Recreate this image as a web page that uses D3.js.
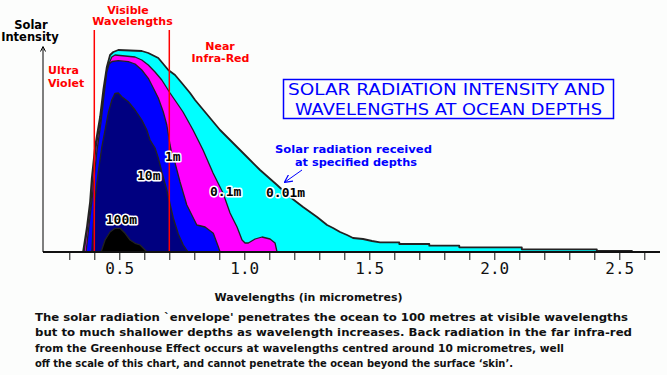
<!DOCTYPE html>
<html>
<head>
<meta charset="utf-8">
<script src="https://cdn.jsdelivr.net/npm/d3@7"></script>
<style>
  html, body { margin: 0; padding: 0; background: #fcfdfc; }
  svg { display: block; }
  .lbl { font-family: "DejaVu Sans", sans-serif; font-weight: bold; }
  .depth { font-family: "DejaVu Sans Mono", monospace; font-weight: bold; font-size: 13px;
           fill: #000; stroke: #fff; stroke-width: 3px; paint-order: stroke; stroke-linejoin: round; }
</style>
</head>
<body>
<svg id="chart" width="667" height="375"></svg>
<script>
'use strict';

// spectral envelopes at each depth: [wavelength (um), intensity]
var env001m = [[0.355,0],[0.370,0.24],[0.383,0.50],[0.390,0.74],[0.403,1.05],[0.423,1.35],[0.436,1.62],
    [0.450,1.85],[0.463,1.97],[0.476,2.00],[0.496,2.02],[0.590,2.01],[0.616,1.99],[0.656,1.94],[0.696,1.82],
    [0.723,1.77],[0.750,1.69],[0.783,1.59],[0.803,1.52],[0.903,1.22],[0.955,1.09],[1.011,0.95],[1.063,0.82],
    [1.131,0.67],[1.183,0.55],[1.235,0.45],[1.291,0.35],[1.331,0.27],[1.355,0.24],[1.383,0.20],[1.411,0.17],
    [1.435,0.14],[1.475,0.13],[1.511,0.11],[1.543,0.097],[1.62,0.097],[1.62,0.08],[1.74,0.08],[1.74,0.063],
    [1.86,0.063],[1.86,0.047],[2.11,0.047],[2.11,0.027],[2.41,0.027],[2.41,0.01],[2.55,0.01],[2.555,0]];
var env01m = [[0.359,0],[0.373,0.24],[0.387,0.50],[0.393,0.74],[0.407,1.05],[0.427,1.35],[0.439,1.62],
    [0.450,1.82],[0.456,1.87],[0.470,1.95],[0.483,1.97],[0.563,1.95],[0.590,1.92],[0.616,1.87],[0.643,1.80],
    [0.670,1.72],[0.703,1.59],[0.736,1.47],[0.755,1.40],[0.795,1.22],[0.835,1.02],[0.875,0.79],[0.915,0.59],
    [0.943,0.39],[0.971,0.25],[0.991,0.12],[1.003,0.09],[1.016,0.09],[1.043,0.13],[1.071,0.15],[1.103,0.13],
    [1.123,0.09],[1.131,0]];
var env1m = [[0.367,0],[0.379,0.27],[0.391,0.52],[0.399,0.74],[0.411,1.02],[0.427,1.30],[0.439,1.57],
    [0.450,1.80],[0.459,1.88],[0.471,1.905],[0.496,1.913],[0.536,1.903],[0.563,1.88],[0.590,1.82],[0.616,1.737],
    [0.636,1.64],[0.656,1.54],[0.676,1.40],[0.690,1.27],[0.703,1.07],[0.711,0.97],[0.723,0.89],[0.743,0.70],
    [0.770,0.47],[0.790,0.37],[0.810,0.27],[0.843,0.25],[0.876,0.187],[0.896,0.053],[0.903,0]];
var env10m = [[0.390,0],[0.396,0.27],[0.403,0.54],[0.416,0.80],[0.430,1.05],[0.443,1.22],[0.456,1.39],
    [0.470,1.52],[0.483,1.587],[0.496,1.59],[0.510,1.553],[0.536,1.503],[0.563,1.42],[0.590,1.32],[0.610,1.22],
    [0.623,1.12],[0.643,1.04],[0.656,0.94],[0.670,0.80],[0.690,0.62],[0.703,0.48],[0.716,0.34],[0.736,0.18],
    [0.756,0.07],[0.775,0]];
var env100m = [[0.427,0],[0.443,0.12],[0.463,0.20],[0.483,0.237],[0.503,0.237],[0.523,0.187],[0.543,0.12],
    [0.563,0.087],[0.583,0.07],[0.603,0.02],[0.611,0]];

var depthNames = ['0.01m', '0.1m', '1m', '10m', '100m'];
var depthLabelAt = [[1.087, 0.553], [0.863, 0.56], [0.683, 0.91], [0.571, 0.72], [0.446, 0.28]];

var tickValues = d3.range(3, 27).map(function (d) { return d / 10; });
var tickLabels = {5: '0.5', 10: '1.0', 15: '1.5', 20: '2.0', 25: '2.5'};
var visibleBand = [0.4, 0.7];

var titleLines = ['SOLAR RADIATION INTENSITY AND', 'WAVELENGTHS AT OCEAN DEPTHS'];
var noteLines = [
    "The solar radiation `envelope' penetrates the ocean to 100 metres at visible wavelengths",
    "but to much shallower depths as wavelength increases.  Back radiation in the far infra-red",
    "from the Greenhouse Effect occurs at wavelengths centred around 10 micrometres, well",
    "off the scale of this chart, and cannot penetrate the ocean beyond the surface \u2018skin\u2019."
];
var noteWidths = [593, 597, 529, 478];

var fills = ['#00ffff', '#ff00ff', '#0000ff', '#000080', '#000000'];

var svg = d3.select('#chart');
var x = d3.scaleLinear().domain([0.3, 2.6]).range([69.3, 644.3]);
var y = d3.scaleLinear().domain([0, 2]).range([252, 52]);

// stacked depth envelopes, widest first
var area = d3.area()
    .x(function (d) { return x(d[0]); })
    .y0(y(0))
    .y1(function (d) { return y(d[1]); });

[env001m, env01m, env1m, env10m, env100m].forEach(function (env, i) {
    svg.append('path')
        .datum(env)
        .attr('d', area)
        .attr('fill', fills[i])
        .attr('stroke', '#222')
        .attr('stroke-width', i ? 1.3 : 1.8)
        .attr('stroke-linejoin', 'round');
});

// visible band limits
svg.selectAll('line.band')
    .data(visibleBand)
    .enter().append('line')
    .attr('class', 'band')
    .attr('x1', function (d) { return x(d); })
    .attr('x2', function (d) { return x(d); })
    .attr('y1', 30)
    .attr('y2', 252)
    .attr('stroke', '#f00')
    .attr('stroke-width', 1.5);

// x axis
var axis = d3.axisBottom(x)
    .tickValues(tickValues)
    .tickSize(8)
    .tickPadding(3)
    .tickFormat(function (d) { return tickLabels[Math.round(d * 10)] || ''; });

var gx = svg.append('g')
    .attr('transform', 'translate(0,252)')
    .call(axis);
gx.select('.domain').remove();
gx.selectAll('.tick line').attr('stroke', '#111').attr('stroke-width', 1);
gx.selectAll('.tick text')
    .attr('fill', '#111')
    .attr('font-family', '"DejaVu Sans Mono", monospace')
    .attr('font-size', '16px');

svg.append('line')
    .attr('x1', 43).attr('x2', 660)
    .attr('y1', 252).attr('y2', 252)
    .attr('stroke', '#111')
    .attr('stroke-width', 2);

// y axis arrow
svg.append('line')
    .attr('x1', 43).attr('x2', 43)
    .attr('y1', 252).attr('y2', 47)
    .attr('stroke', '#000')
    .attr('stroke-width', 1);
svg.append('path')
    .attr('d', 'M40.5,51.5L43,46.5L45.5,51.5')
    .attr('fill', 'none')
    .attr('stroke', '#000')
    .attr('stroke-width', 1);

// axis titles
svg.append('text').attr('class', 'lbl')
    .attr('x', 31).attr('y', 28.5)
    .attr('text-anchor', 'middle')
    .attr('font-size', '11.5px')
    .text('Solar');
svg.append('text').attr('class', 'lbl')
    .attr('x', 30).attr('y', 41)
    .attr('text-anchor', 'middle')
    .attr('font-size', '11.5px')
    .text('Intensity');
svg.append('text').attr('class', 'lbl')
    .attr('x', 308.5).attr('y', 301)
    .attr('text-anchor', 'middle')
    .attr('font-size', '11px')
    .attr('fill', '#111')
    .text('Wavelengths (in micrometres)');

// band labels
var red = [
    ['Visible', 128, 13.5, 'middle'],
    ['Wavelengths', 132.5, 25, 'middle'],
    ['Ultra', 48, 73.5, 'start'],
    ['Violet', 48, 86.5, 'start'],
    ['Near', 220, 49.5, 'middle'],
    ['Infra-Red', 220.5, 61.5, 'middle']
];
svg.selectAll('text.red')
    .data(red)
    .enter().append('text')
    .attr('class', 'lbl red')
    .attr('x', function (d) { return d[1]; })
    .attr('y', function (d) { return d[2]; })
    .attr('text-anchor', function (d) { return d[3]; })
    .attr('font-size', '11px')
    .attr('fill', '#f00')
    .text(function (d) { return d[0]; });

// title box
svg.append('rect')
    .attr('x', 283.5).attr('y', 79.5)
    .attr('width', 330).attr('height', 39)
    .attr('fill', 'none')
    .attr('stroke', '#0000ff')
    .attr('stroke-width', 1.5);
svg.selectAll('text.title')
    .data(titleLines)
    .enter().append('text')
    .attr('class', 'title')
    .attr('x', function (d, i) { return i ? 448.5 : 446.5; })
    .attr('y', function (d, i) { return i ? 114.5 : 94.5; })
    .attr('text-anchor', 'middle')
    .attr('font-family', '"DejaVu Sans", sans-serif')
    .attr('font-size', '15px')
    .attr('textLength', function (d, i) { return i ? 307 : 317; })
    .attr('lengthAdjust', 'spacingAndGlyphs')
    .attr('fill', '#0000ff')
    .text(function (d) { return d; });

// depth note + pointer
svg.append('text').attr('class', 'lbl')
    .attr('x', 353.5).attr('y', 153)
    .attr('text-anchor', 'middle')
    .attr('font-size', '10px')
    .attr('textLength', 157)
    .attr('lengthAdjust', 'spacingAndGlyphs')
    .attr('fill', '#0000ff')
    .text('Solar radiation received');
svg.append('text').attr('class', 'lbl')
    .attr('x', 356).attr('y', 165.5)
    .attr('text-anchor', 'middle')
    .attr('font-size', '10px')
    .attr('textLength', 122)
    .attr('lengthAdjust', 'spacingAndGlyphs')
    .attr('fill', '#0000ff')
    .text('at specified depths');

svg.append('defs').append('marker')
    .attr('id', 'arrow-marker')
    .attr('viewBox', '0 0 10 10')
    .attr('refX', 9)
    .attr('refY', 5)
    .attr('markerWidth', 8)
    .attr('markerHeight', 8)
    .attr('markerUnits', 'userSpaceOnUse')
    .attr('orient', 'auto')
    .append('path')
    .attr('d', 'M0,0L10,5L0,10')
    .attr('fill', 'none')
    .attr('stroke', '#0000ff')
    .attr('stroke-width', 1.5);
svg.append('line')
    .attr('x1', 302).attr('y1', 170)
    .attr('x2', 285).attr('y2', 182)
    .attr('stroke', '#0000ff')
    .attr('stroke-width', 1)
    .attr('marker-end', 'url(#arrow-marker)');

// depth labels
svg.selectAll('text.depth')
    .data(depthNames)
    .enter().append('text')
    .attr('class', 'depth')
    .attr('x', function (d, i) { return x(depthLabelAt[i][0]); })
    .attr('y', function (d, i) { return y(depthLabelAt[i][1]); })
    .text(function (d) { return d; });

// footnote
svg.selectAll('text.note')
    .data(noteLines)
    .enter().append('text')
    .attr('class', 'lbl note')
    .attr('x', 35)
    .attr('y', function (d, i) { return 321 + i * 15.3; })
    .attr('font-size', '11px')
    .attr('textLength', function (d, i) { return noteWidths[i]; })
    .attr('lengthAdjust', 'spacingAndGlyphs')
    .attr('fill', '#111')
    .text(function (d) { return d; });
</script>
</body>
</html>
